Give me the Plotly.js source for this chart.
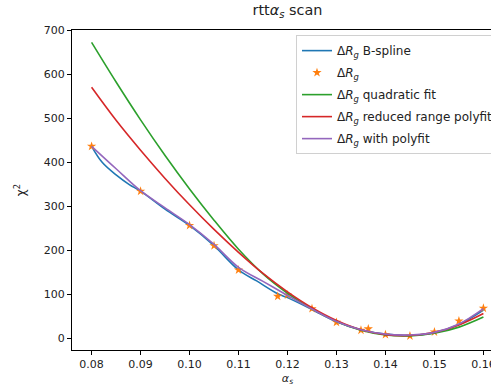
<!DOCTYPE html>
<html>
<head>
<meta charset="utf-8">
<script src="https://cdn.plot.ly/plotly-3.0.1.min.js"></script>
<style>
html, body { margin: 0; padding: 0; overflow: hidden; background: #fff; }
#chart { width: 503px; height: 386px; }
</style>
</head>
<body>
<div id="chart"></div>
<script>
// Measured points (ΔR_g)
const alphaPoints = [0.08, 0.09, 0.10, 0.105, 0.11, 0.118, 0.12, 0.125, 0.13, 0.135, 0.1365, 0.14, 0.145, 0.15, 0.155, 0.16];
const chi2Points  = [437, 335, 257, 211, 156, 96, 99, 68, 37, 19, 22, 9, 6, 15, 40, 69];

// B-spline curve
const splineX = [0.08, 0.0822, 0.085, 0.0877, 0.09, 0.095, 0.10, 0.105, 0.11, 0.1137, 0.118, 0.12, 0.125, 0.13, 0.135, 0.14, 0.145, 0.15, 0.155, 0.16];
const splineY = [437, 400, 372, 350, 335, 294, 257, 211, 156, 131, 102, 93, 66, 38, 20, 10, 7, 13, 32, 65];

// Quadratic fit curve
const quadX = [0.08, 0.085, 0.09, 0.095, 0.10, 0.105, 0.11, 0.115, 0.12, 0.125, 0.13, 0.135, 0.14, 0.145, 0.15, 0.155, 0.16];
const quadY = [673, 583, 497, 416, 340, 269, 203, 147, 103, 67, 39, 19, 8, 6, 12, 26, 49];

// Reduced range polyfit curve
const reducedX = [0.08, 0.085, 0.09, 0.095, 0.10, 0.105, 0.11, 0.115, 0.12, 0.125, 0.13, 0.135, 0.14, 0.145, 0.15, 0.155, 0.16];
const reducedY = [571, 496, 428, 364, 304, 248, 196, 148, 106, 70, 41, 20, 9, 7, 14, 31, 57];

// Polyfit curve
const polyX = [0.08, 0.085, 0.09, 0.095, 0.10, 0.105, 0.11, 0.115, 0.12, 0.125, 0.13, 0.135, 0.14, 0.145, 0.15, 0.155, 0.16];
const polyY = [437, 386, 336, 297, 259, 214, 162, 130, 98, 67, 39, 20, 10, 8, 14, 33, 68];

const xTickVals = [0.08, 0.09, 0.10, 0.11, 0.12, 0.13, 0.14, 0.15, 0.16];
const xTickText = ['0.08', '0.09', '0.10', '0.11', '0.12', '0.13', '0.14', '0.15', '0.16'];
const yTickVals = [0, 100, 200, 300, 400, 500, 600, 700];

const labelBase = 'Δ<i>R</i><sub><i>g</i></sub>';
const FONT = 'DejaVu Sans, sans-serif';
const LW = 1.6;

const traces = [
  { x: splineX, y: splineY, mode: 'lines', name: labelBase + ' B-spline', legendgroup: 'a',
    line: { color: '#1f77b4', width: LW, shape: 'spline', smoothing: 1 } },
  { x: alphaPoints, y: chi2Points, mode: 'markers', name: labelBase, legendgroup: 'b',
    marker: { symbol: 'star', size: 7, color: '#ff7f0e', line: { width: 0 } } },
  { x: quadX, y: quadY, mode: 'lines', name: labelBase + ' quadratic fit', legendgroup: 'c',
    line: { color: '#2ca02c', width: LW, shape: 'spline', smoothing: 1 } },
  { x: reducedX, y: reducedY, mode: 'lines', name: labelBase + ' reduced range polyfit', legendgroup: 'd',
    line: { color: '#d62728', width: LW, shape: 'spline', smoothing: 1 } },
  { x: polyX, y: polyY, mode: 'lines', name: labelBase + ' with polyfit', legendgroup: 'e',
    line: { color: '#9467bd', width: LW, shape: 'spline', smoothing: 1 } }
];

const axisCommon = {
  showgrid: false, zeroline: false, showline: true, mirror: true,
  linecolor: '#000', linewidth: 1, ticks: 'outside', ticklen: 4, tickwidth: 1, tickcolor: '#000',
  tickfont: { family: FONT, size: 11, color: '#222' }
};

const layout = {
  width: 503, height: 386,
  margin: { l: 72, r: 0, t: 30, b: 36 },
  paper_bgcolor: '#fff', plot_bgcolor: '#fff',
  font: { family: FONT, color: '#222' },
  title: { text: 'rtt<i>α</i><sub><i>s</i></sub> scan', font: { family: FONT, size: 14.4, color: '#222' },
           xref: 'paper', x: 0.5, xanchor: 'center', yref: 'container', y: 1 - 10 / 386, yanchor: 'middle' },
  xaxis: Object.assign({}, axisCommon, {
    range: [0.076, 0.164], tickvals: xTickVals, ticktext: xTickText,
    title: { text: '<i>α</i><sub><i>s</i></sub>', font: { family: FONT, size: 11, color: '#222' }, standoff: 5 }
  }),
  yaxis: Object.assign({}, axisCommon, {
    range: [-26, 701.3], tickvals: yTickVals,
    title: { text: 'χ<sup>2</sup>', font: { family: FONT, size: 12, color: '#222' }, standoff: 15 }
  }),
  showlegend: true,
  legend: {
    x: 0.5197, xanchor: 'left', y: 0.984, yanchor: 'top',
    bgcolor: 'rgba(255,255,255,0.8)', bordercolor: '#d0d0d0', borderwidth: 1,
    font: { family: FONT, size: 12, color: '#222' },
    traceorder: 'grouped', tracegroupgap: 3, itemwidth: 30
  }
};

Plotly.newPlot('chart', traces, layout, { displayModeBar: false, staticPlot: true });
</script>
</body>
</html>
